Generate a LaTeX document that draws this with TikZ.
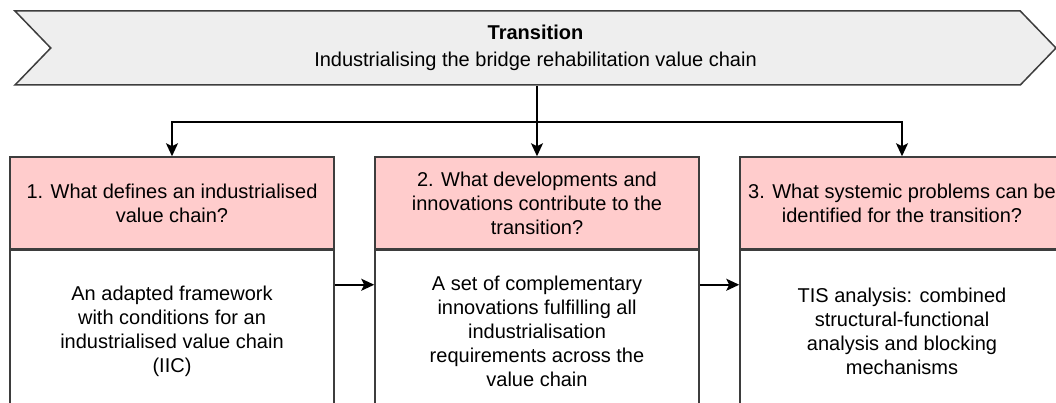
\documentclass[tikz,border=0pt]{standalone}
\usepackage{fontspec}
\setmainfont{Liberation Sans}
\usetikzlibrary{calc,arrows.meta,shapes.symbols}
\definecolor{edgegray}{HTML}{3D3D3D}
\definecolor{bannerfill}{HTML}{EEEEEE}
\definecolor{questfill}{HTML}{FFCCCC}
\tikzset{
	txt/.style={font=\fontsize{20}{24}\selectfont, align=center, inner sep=0pt},
	quest/.style={txt, draw=edgegray, line width=1.5pt, fill=questfill, minimum width=324pt, minimum height=92pt},
	answer/.style={txt, draw=edgegray, line width=1.5pt, fill=white, minimum width=324pt, minimum height=162pt, anchor=north},
	arr/.style={line width=1.5pt, -{Stealth[length=13pt,width=12pt,inset=3pt]}}
}

\begin{document}
\begin{tikzpicture}[x=1pt, y=-1pt]
			%%%%% START %%%%%
			
			\useasboundingbox (0, 0) rectangle (1056, 403);
			
			\node[txt, signal, signal to=east, signal from=west, signal pointer angle=92, draw=edgegray, line width=1.5pt, fill=bannerfill, minimum width=1041pt, minimum height=74pt] (banner) at (535.5, 48) {\textbf{Transition}\\[3pt]Industrialising the bridge rehabilitation value chain};
			
			\node[quest] (q1) at (172, 203) {1. What defines an industrialised\\value chain?};
			\node[quest] (q2) at (537, 203) {2. What developments and\\innovations contribute to the\\transition?};
			\node[quest] (q3) at (902, 203) {3. What systemic problems can be\\identified for the transition?};
			
			\node[answer] (a1) at (q1.south) {An adapted framework\\with conditions for an\\industrialised value chain\\(IIC)};
			\node[answer] (a2) at (q2.south) {A set of complementary\\innovations fulfilling all\\industrialisation\\requirements across the\\value chain};
			\node[answer] (a3) at (q3.south) {TIS analysis: combined\\structural-functional\\analysis and blocking\\mechanisms};
			
			\coordinate (split) at (537, 122);
			
			\draw[arr] (banner.south -| q2.north) -- (q2.north);
			\draw[arr] (split) -| (q1.north);
			\draw[arr] (split) -| (q3.north);
			
			\draw[arr] ($(q1.north east)!0.5!(a1.south east)$) -- ($(q2.north west)!0.5!(a2.south west)$);
			\draw[arr] ($(q2.north east)!0.5!(a2.south east)$) -- ($(q3.north west)!0.5!(a3.south west)$);
			
			%%%%% END %%%%%
\end{tikzpicture}
\end{document}
